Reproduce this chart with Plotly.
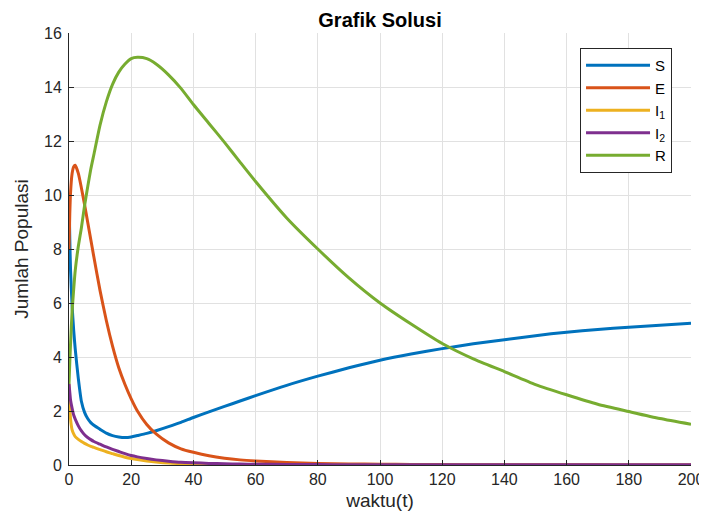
import plotly.graph_objects as go

t = [0, 0.25, 0.5, 1, 1.5, 2, 3, 4, 5, 6, 7, 8, 10, 12, 14, 16, 18, 20, 22, 25, 28, 32, 36, 40,
     45, 50, 55, 60, 70, 80, 90, 100, 110, 120, 130, 140, 150, 160, 170, 180, 190, 200]

S = [10, 8.4, 7.2, 5.9, 5.0, 4.3, 3.2, 2.35, 1.95, 1.72, 1.57, 1.47, 1.32, 1.18, 1.09, 1.04, 1.02,
     1.04, 1.09, 1.17, 1.27, 1.42, 1.58, 1.76, 1.97, 2.17, 2.37, 2.57, 2.95, 3.29, 3.6, 3.88,
     4.11, 4.31, 4.49, 4.64, 4.79, 4.92, 5.02, 5.1, 5.18, 5.25]

E = [8, 9.3, 10.1, 10.8, 11.05, 11.1, 10.8, 10.25, 9.65, 9.0, 8.35, 7.7, 6.45, 5.35, 4.4, 3.6,
     2.98, 2.45, 2.0, 1.5, 1.15, 0.82, 0.6, 0.47, 0.34, 0.25, 0.19, 0.15, 0.09, 0.06, 0.04, 0.03,
     0.02, 0.015, 0.012, 0.01, 0.008, 0.006, 0.005, 0.004, 0.003, 0.003]

I1 = [3, 2.2, 1.7, 1.3, 1.15, 1.05, 0.95, 0.87, 0.8, 0.74, 0.69, 0.65, 0.57, 0.49, 0.42, 0.35,
      0.29, 0.24, 0.2, 0.15, 0.11, 0.07, 0.05, 0.03, 0.02, 0.015, 0.01, 0.008, 0.005, 0.003,
      0.002, 0.001, 0, 0, 0, 0, 0, 0, 0, 0, 0, 0]

I2 = [3, 2.7, 2.4, 2.1, 1.85, 1.7, 1.45, 1.26, 1.12, 1.02, 0.94, 0.87, 0.77, 0.67, 0.58, 0.5,
      0.42, 0.35, 0.3, 0.24, 0.19, 0.14, 0.1, 0.08, 0.06, 0.045, 0.035, 0.03, 0.02, 0.015,
      0.012, 0.01, 0.01, 0.01, 0.01, 0.01, 0.01, 0.01, 0.01, 0.01, 0.01, 0.01]

R = [3, 3.8, 4.5, 5.7, 6.5, 7.2, 8.1, 8.8, 9.6, 10.3, 10.95, 11.5, 12.6, 13.45, 14.1, 14.55,
     14.85, 15.05, 15.1, 15.05, 14.85, 14.45, 13.95, 13.35, 12.65, 11.95, 11.22, 10.5, 9.15, 8.0,
     6.93, 6.0, 5.22, 4.5, 3.93, 3.46, 2.98, 2.6, 2.25, 1.98, 1.72, 1.51]

names = ["S", "E", "I<sub>1</sub>", "I<sub>2</sub>", "R"]
colors = ["#0072BD", "#D95319", "#EDB120", "#7E2F8E", "#77AC30"]
series = [S, E, I1, I2, R]

FONT = "Liberation Sans, Arial, sans-serif"

fig = go.Figure()
for name, col, y in zip(names, colors, series):
    fig.add_trace(go.Scatter(x=t, y=y, mode="lines", name=name,
                             line=dict(color=col, width=3, shape="spline", smoothing=0.6)))

axis_common = dict(
    showgrid=True, gridcolor="#e1e1e1", gridwidth=1,
    showline=True, linecolor="#262626", linewidth=1,
    ticks="inside", ticklen=5, tickcolor="#262626",
    tickfont=dict(family=FONT, size=16, color="#262626"),
    zeroline=False, mirror=False, automargin=False,
)

# page body has an 8px default margin, so the figure is drawn 8px right/down
W, H = 699, 513
fig.update_layout(
    width=W, height=H,
    paper_bgcolor="white", plot_bgcolor="white",
    margin=dict(l=61, r=16, t=25, b=56),
    font=dict(family=FONT, color="#262626"),
    title=dict(text="<b>Grafik Solusi</b>", xref="paper", x=0.5,
               xanchor="center", y=1 - 11.5 / H, yanchor="middle",
               font=dict(family=FONT, size=20, color="black")),
    xaxis=dict(range=[0, 200], dtick=20,
               title=dict(text="waktu(t)", font=dict(family=FONT, size=19, color="#262626"), standoff=6),
               **axis_common),
    yaxis=dict(range=[0, 16], dtick=2, ticklabelstandoff=3,
               title=dict(text="Jumlah Populasi", font=dict(family=FONT, size=19, color="#262626"), standoff=10),
               **axis_common),
    legend=dict(x=0.9695, xanchor="right", y=0.965, yanchor="top",
                bgcolor="white", bordercolor="#262626", borderwidth=1,
                font=dict(family=FONT, size=15, color="black"),
                itemwidth=64, tracegroupgap=0),
    showlegend=True,
)

fig.write_html("out.html")
